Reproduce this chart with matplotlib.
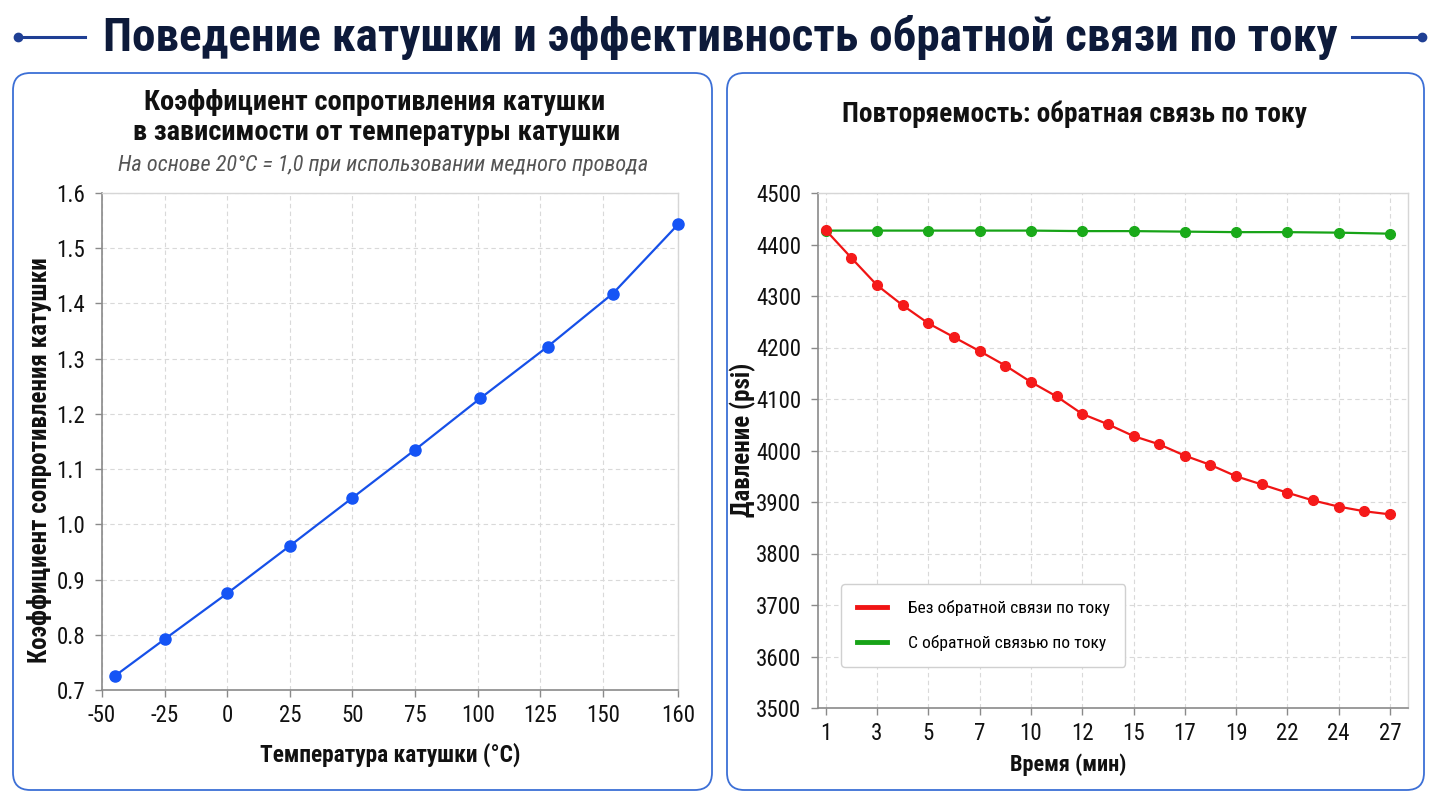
import matplotlib
matplotlib.use("Agg")
import matplotlib.pyplot as plt
from matplotlib.patches import FancyBboxPatch
from matplotlib.lines import Line2D
from matplotlib import font_manager

# ---------------- data ----------------
temp_positions = [-45, -25, 0, 25, 50, 75, 101, 128, 154, 180]
resistance = [0.725, 0.792, 0.875, 0.961, 1.048, 1.135, 1.228, 1.322, 1.418, 1.543]
temp_tick_pos = [-50, -25, 0, 25, 50, 75, 100, 125, 150, 180]
temp_tick_labels = ["-50", "-25", "0", "25", "50", "75", "100", "125", "150", "160"]
res_ticks = [0.7, 0.8, 0.9, 1.0, 1.1, 1.2, 1.3, 1.4, 1.5, 1.6]

no_feedback = [4428, 4374, 4321, 4282, 4247, 4220, 4193, 4165, 4133, 4105, 4071,
               4051, 4028, 4012, 3990, 3972, 3950, 3934, 3918, 3903, 3891, 3882, 3876]
with_feedback = [4427, 4427, 4427, 4427, 4427, 4426, 4426, 4425, 4424, 4424, 4423, 4421]
time_labels = ["1", "3", "5", "7", "10", "12", "15", "17", "19", "22", "24", "27"]
pressure_ticks = [3500, 3600, 3700, 3800, 3900, 4000, 4100, 4200, 4300, 4400, 4500]

# ---------------- fonts ----------------
entries = font_manager.fontManager.ttflist
names = {f.name for f in entries}
chosen = None
condensed = False
for nm in ["Roboto Condensed", "Liberation Sans Narrow", "Noto Sans Condensed",
           "Open Sans Condensed", "Noto Sans SemiCondensed", "Open Sans SemiCondensed"]:
    if nm in names:
        chosen, condensed = nm, True
        break
if chosen is None:
    for nm in ["Noto Sans", "Roboto", "Open Sans", "Inter"]:
        if any(f.name == nm and "condensed" in str(f.stretch) and f.weight in (700, "bold")
               for f in entries):
            chosen, condensed = nm, True
            plt.rcParams["font.stretch"] = "condensed"
            break
if chosen is None:
    chosen = "Roboto"
plt.rcParams["font.family"] = [chosen, "DejaVu Sans"]
s = 1.0 if condensed else 0.88   # size factor for non-condensed fallback

W, H = 1440, 811
fig = plt.figure(figsize=(W / 100, H / 100), dpi=100)
fig.patch.set_facecolor("white")

def fx(x):
    return x / W

def fy(y):
    return 1 - y / H

# ---------------- header ----------------
navy = "#0d1a3a"
accent = "#1f3f94"
fig.text(0.5, fy(38), "Поведение катушки и эффективность обратной связи по току",
         ha="center", va="center", fontsize=34 * s, fontweight="bold", color=navy)
fig.add_artist(Line2D([fx(18), fx(85)], [fy(37), fy(37)], color=accent, lw=2.2))
fig.add_artist(Line2D([fx(18)], [fy(37)], marker="o", ms=6, color=accent))
fig.add_artist(Line2D([fx(1352), fx(1422)], [fy(37), fy(37)], color=accent, lw=2.2))
fig.add_artist(Line2D([fx(1422)], [fy(37)], marker="o", ms=6, color=accent))

# ---------------- panels ----------------
for x0, x1 in [(13, 712), (727, 1424)]:
    p = FancyBboxPatch((fx(x0), fy(790)), fx(x1 - x0), (790 - 73) / H,
                       boxstyle="round,pad=0,rounding_size=0.012",
                       transform=fig.transFigure, facecolor="white",
                       edgecolor="#3c6fd6", lw=1.3, zorder=0,
                       mutation_aspect=W / H)
    fig.add_artist(p)

grid_kw = dict(color="#d9d9d9", linestyle=(0, (4, 3)), linewidth=0.8)
tick_fs = 16.5 * s

def style_axes(ax):
    ax.set_facecolor("white")
    for sp in ["top", "right"]:
        ax.spines[sp].set_color("#d6d6d6")
        ax.spines[sp].set_linewidth(1.0)
    for sp in ["left", "bottom"]:
        ax.spines[sp].set_color("#8a8a8a")
        ax.spines[sp].set_linewidth(1.2)
    ax.tick_params(axis="both", labelsize=tick_fs, length=5, width=1, color="#8a8a8a",
                   labelcolor="#111111")
    ax.tick_params(axis="y", pad=7)
    ax.tick_params(axis="x", pad=5)
    ax.grid(True, **grid_kw)
    ax.set_axisbelow(True)

ttl_fs = 20.5 * s
sub_fs = 16 * s

# ---------------- left chart ----------------
ax1 = fig.add_axes([fx(102), fy(690), fx(678 - 102), (690 - 193) / H])
style_axes(ax1)
ax1.plot(temp_positions, resistance, color="#1650e8", lw=1.6, marker="o",
         ms=8, markerfacecolor="#1554f5", markeredgecolor="#1554f5", clip_on=False, zorder=3)
ax1.set_xlim(-50, 180)
ax1.set_ylim(0.7, 1.6)
ax1.set_xticks(temp_tick_pos)
ax1.set_xticklabels(temp_tick_labels)
ax1.set_yticks(res_ticks)
ax1.set_yticklabels([f"{v:.1f}" for v in res_ticks])
ax1.set_xlabel("Температура катушки (°C)", fontsize=16.8 * s, fontweight="bold",
               color="#111111", labelpad=11)
ax1.set_ylabel("Коэффициент сопротивления катушки", fontsize=18 * s, fontweight="bold",
               color="#111111")
ax1.yaxis.set_label_coords(-0.086, 0.463)

fig.text(fx(375), fy(103), "Коэффициент сопротивления катушки", ha="center",
         va="center", fontsize=ttl_fs, fontweight="bold", color="#111111")
fig.text(fx(377), fy(133), "в зависимости от температуры катушки", ha="center",
         va="center", fontsize=ttl_fs, fontweight="bold", color="#111111")
fig.text(fx(383), fy(165), "На основе 20°C = 1,0 при использовании медного провода",
         ha="center", va="center", fontsize=sub_fs, style="italic", color="#555555")

# ---------------- right chart ----------------
ax2 = fig.add_axes([fx(818), fy(708), fx(1408 - 818), (708 - 193) / H])
style_axes(ax2)
idx_red = list(range(len(no_feedback)))
idx_green = list(range(0, len(no_feedback), 2))
ax2.plot(idx_green, with_feedback, color="#17a317", lw=1.6, marker="o", ms=7,
         markerfacecolor="#1aaa1a", markeredgecolor="#1aaa1a", zorder=3,
         label="С обратной связью по току")
ax2.plot(idx_red, no_feedback, color="#f01414", lw=1.6, marker="o", ms=7,
         markerfacecolor="#f51a1a", markeredgecolor="#f51a1a", zorder=4,
         label="Без обратной связи по току")
ax2.set_xlim(-0.3, 22.7)
ax2.set_ylim(3500, 4500)
ax2.set_xticks(idx_green)
ax2.set_xticklabels(time_labels)
ax2.set_yticks(pressure_ticks)
ax2.set_xlabel("Время (мин)", fontsize=16 * s, fontweight="bold", color="#111111")
ax2.xaxis.set_label_coords(0.424, -0.089)
ax2.set_ylabel("Давление (psi)", fontsize=18 * s, fontweight="bold", color="#111111")
ax2.yaxis.set_label_coords(-0.1045, 0.52)

fig.text(fx(1075), fy(114), "Повторяемость: обратная связь по току", ha="center",
         va="center", fontsize=ttl_fs * 0.96, fontweight="bold", color="#111111")

handles = [Line2D([], [], color="#f01414", lw=3.5),
           Line2D([], [], color="#17a317", lw=3.5)]
leg = ax2.legend(handles, ["Без обратной связи по току", "С обратной связью по току"],
                 loc="lower left", bbox_to_anchor=(0.039, 0.08), borderaxespad=0,
                 fontsize=12.6 * s,
                 frameon=True, fancybox=True, framealpha=1, edgecolor="#d0d0d0",
                 borderpad=0.9, labelspacing=1.1, handlelength=1.7, handletextpad=1.2)
leg.get_frame().set_linewidth(1.0)

fig.savefig("out.png", dpi=100, facecolor="white")
